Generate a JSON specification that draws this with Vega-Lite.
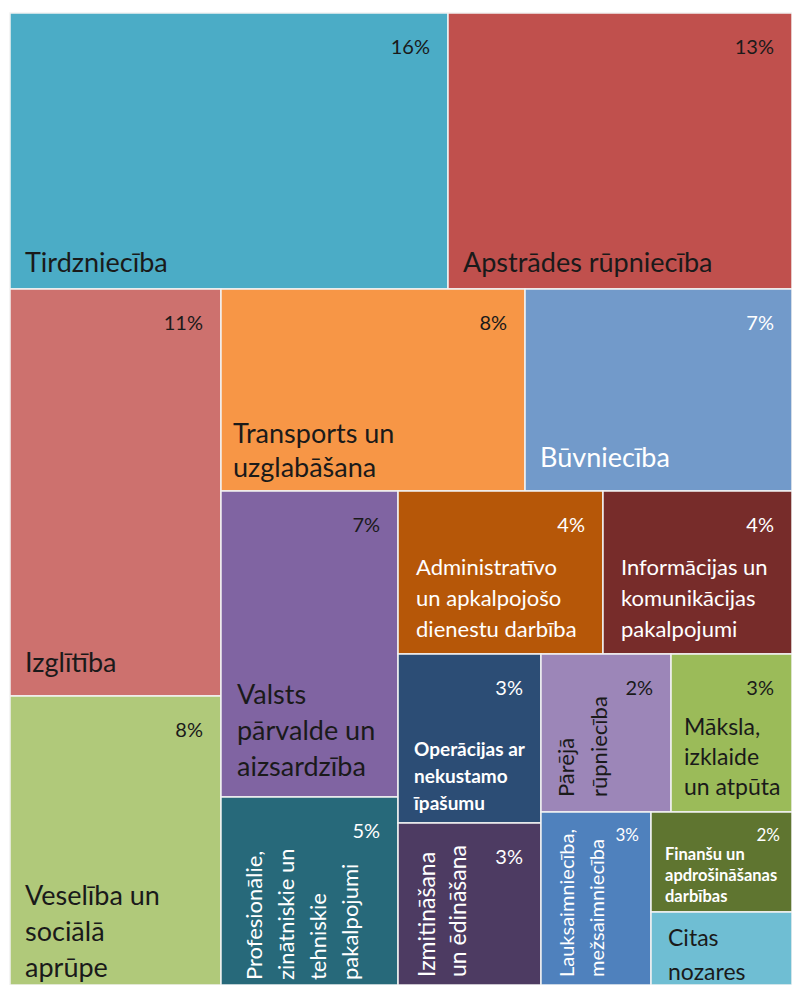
{
  "$schema": "https://vega.github.io/schema/vega-lite/v6.json",
  "width": 782,
  "height": 972,
  "padding": {"left": 10, "top": 13, "right": 0, "bottom": 0},
  "autosize": {"type": "none"},
  "background": "white",
  "config": {"view": {"stroke": null}, "text": {"font": "Lato", "lineBreak": "\n"}},
  "data": {
    "values": [
      {"name": "Tirdzniecība", "label": "Tirdzniecība", "share": 0.16, "x0": 0, "x1": 56.01, "y0": 0, "y1": 28.4},
      {"name": "Apstrādes rūpniecība", "label": "Apstrādes rūpniecība", "share": 0.13, "x0": 56.01, "x1": 100, "y0": 0, "y1": 28.4},
      {"name": "Izglītība", "label": "Izglītība", "share": 0.11, "x0": 0, "x1": 26.98, "y0": 28.4, "y1": 70.27},
      {"name": "Veselība un sociālā aprūpe", "label": "Veselība un\nsociālā\naprūpe", "share": 0.08, "x0": 0, "x1": 26.98, "y0": 70.27, "y1": 100},
      {"name": "Transports un uzglabāšana", "label": "Transports un\nuzglabāšana", "share": 0.08, "x0": 26.98, "x1": 65.86, "y0": 28.4, "y1": 49.18},
      {"name": "Būvniecība", "label": "Būvniecība", "share": 0.07, "x0": 65.86, "x1": 100, "y0": 28.4, "y1": 49.18},
      {"name": "Valsts pārvalde un aizsardzība", "label": "Valsts\npārvalde un\naizsardzība", "share": 0.07, "x0": 26.98, "x1": 49.62, "y0": 49.18, "y1": 80.66},
      {"name": "Profesionālie, zinātniskie un tehniskie pakalpojumi", "label": "Profesionālie,\nzinātniskie un\ntehniskie\npakalpojumi", "share": 0.05, "x0": 26.98, "x1": 49.62, "y0": 80.66, "y1": 100},
      {"name": "Administratīvo un apkalpojošo dienestu darbība", "label": "Administratīvo\nun apkalpojošo\ndienestu darbība", "share": 0.04, "x0": 49.62, "x1": 75.83, "y0": 49.18, "y1": 65.95},
      {"name": "Informācijas un komunikācijas pakalpojumi", "label": "Informācijas un\nkomunikācijas\npakalpojumi", "share": 0.04, "x0": 75.83, "x1": 100, "y0": 49.18, "y1": 65.95},
      {"name": "Operācijas ar nekustamo īpašumu", "label": "Operācijas ar\nnekustamo\nīpašumu", "share": 0.03, "x0": 49.62, "x1": 67.9, "y0": 65.95, "y1": 83.33},
      {"name": "Izmitināšana un ēdināšana", "label": "Izmitināšana\nun ēdināšana", "share": 0.03, "x0": 49.62, "x1": 67.9, "y0": 83.33, "y1": 100},
      {"name": "Pārējā rūpniecība", "label": "Pārējā\nrūpniecība", "share": 0.02, "x0": 67.9, "x1": 84.53, "y0": 65.95, "y1": 82.2},
      {"name": "Māksla, izklaide un atpūta", "label": "Māksla,\nizklaide\nun atpūta", "share": 0.03, "x0": 84.53, "x1": 100, "y0": 65.95, "y1": 82.2},
      {"name": "Lauksaimniecība, mežsaimniecība", "label": "Lauksaimniecība,\nmežsaimniecība", "share": 0.03, "x0": 67.9, "x1": 81.97, "y0": 82.2, "y1": 100},
      {"name": "Finanšu un apdrošināšanas darbības", "label": "Finanšu un\napdrošināšanas\ndarbības", "share": 0.02, "x0": 81.97, "x1": 100, "y0": 82.2, "y1": 92.49},
      {"name": "Citas nozares", "label": "Citas\nnozares", "share": null, "x0": 81.97, "x1": 100, "y0": 92.49, "y1": 100}
    ]
  },
  "encoding": {
    "x": {"field": "x0", "type": "quantitative", "scale": {"domain": [0, 100], "nice": false, "zero": false}, "axis": null},
    "y": {"field": "y0", "type": "quantitative", "scale": {"domain": [0, 100], "nice": false, "zero": false, "reverse": true}, "axis": null}
  },
  "layer": [
    {
      "mark": {"type": "rect", "stroke": "#f2f2f2", "strokeWidth": 1.5},
      "encoding": {
        "x": {"field": "x0", "type": "quantitative"},
        "x2": {"field": "x1"},
        "y": {"field": "y0", "type": "quantitative"},
        "y2": {"field": "y1"},
        "color": {
          "field": "name", "type": "nominal", "legend": null,
          "scale": {
            "domain": ["Tirdzniecība", "Apstrādes rūpniecība", "Izglītība", "Veselība un sociālā aprūpe", "Transports un uzglabāšana", "Būvniecība", "Valsts pārvalde un aizsardzība", "Profesionālie, zinātniskie un tehniskie pakalpojumi", "Administratīvo un apkalpojošo dienestu darbība", "Informācijas un komunikācijas pakalpojumi", "Operācijas ar nekustamo īpašumu", "Izmitināšana un ēdināšana", "Pārējā rūpniecība", "Māksla, izklaide un atpūta", "Lauksaimniecība, mežsaimniecība", "Finanšu un apdrošināšanas darbības", "Citas nozares"],
            "range": ["#4BACC6", "#C0504D", "#CD716E", "#B0C97A", "#F79646", "#729ACA", "#8064A2", "#27697A", "#B65708", "#772C2A", "#2C4D75", "#4D3B62", "#9C86B8", "#9BBB59", "#4F81BD", "#5F7530", "#6FBED3"]
          }
        }
      }
    },
    {
      "transform": [{"filter": "datum.share != null && datum.name != 'Finanšu un apdrošināšanas darbības' && datum.name != 'Lauksaimniecība, mežsaimniecība'"}],
      "mark": {"type": "text", "align": "right", "baseline": "middle", "dx": -18, "dy": 35, "fontSize": 20},
      "encoding": {
        "x": {"field": "x1", "type": "quantitative"},
        "y": {"field": "y0", "type": "quantitative"},
        "text": {"field": "share", "type": "quantitative", "format": ".0%"},
        "color": {"condition": {"test": "indexof(['Būvniecība','Administratīvo un apkalpojošo dienestu darbība','Informācijas un komunikācijas pakalpojumi','Operācijas ar nekustamo īpašumu','Izmitināšana un ēdināšana','Profesionālie, zinātniskie un tehniskie pakalpojumi'], datum.name) >= 0", "value": "white"}, "value": "#1a1a1a"}
      }
    },
    {
      "transform": [{"filter": {"field": "name", "oneOf": ["Finanšu un apdrošināšanas darbības", "Lauksaimniecība, mežsaimniecība"]}}],
      "mark": {"type": "text", "align": "right", "baseline": "middle", "dx": -12, "dy": 24, "fontSize": 17, "color": "white"},
      "encoding": {
        "x": {"field": "x1", "type": "quantitative"},
        "y": {"field": "y0", "type": "quantitative"},
        "text": {"field": "share", "type": "quantitative", "format": ".0%"}
      }
    },
    {
      "transform": [{"filter": {"field": "name", "oneOf": ["Tirdzniecība", "Apstrādes rūpniecība"]}}],
      "mark": {"type": "text", "align": "left", "baseline": "bottom", "dx": 15, "dy": -11, "fontSize": 27, "color": "#1a1a1a"},
      "encoding": {"x": {"field": "x0", "type": "quantitative"}, "y": {"field": "y1", "type": "quantitative"}, "text": {"field": "label"}}
    },
    {
      "transform": [{"filter": {"field": "name", "oneOf": ["Izglītība", "Būvniecība"]}}],
      "mark": {"type": "text", "align": "left", "baseline": "bottom", "dx": 15, "dy": -18, "fontSize": 27},
      "encoding": {
        "x": {"field": "x0", "type": "quantitative"}, "y": {"field": "y1", "type": "quantitative"}, "text": {"field": "label"},
        "color": {"condition": {"test": "datum.name == 'Būvniecība'", "value": "white"}, "value": "#1a1a1a"}
      }
    },
    {
      "transform": [{"filter": {"field": "name", "equal": "Valsts pārvalde un aizsardzība"}}],
      "mark": {"type": "text", "align": "left", "baseline": "bottom", "dx": 16, "dy": -87, "fontSize": 27, "lineHeight": 36, "color": "#1a1a1a"},
      "encoding": {"x": {"field": "x0", "type": "quantitative"}, "y": {"field": "y1", "type": "quantitative"}, "text": {"field": "label"}}
    },
    {
      "transform": [{"filter": {"field": "name", "equal": "Veselība un sociālā aprūpe"}}],
      "mark": {"type": "text", "align": "left", "baseline": "bottom", "dx": 15, "dy": -74, "fontSize": 27, "lineHeight": 36, "color": "#1a1a1a"},
      "encoding": {"x": {"field": "x0", "type": "quantitative"}, "y": {"field": "y1", "type": "quantitative"}, "text": {"field": "label"}}
    },
    {
      "transform": [{"filter": {"field": "name", "equal": "Transports un uzglabāšana"}}],
      "mark": {"type": "text", "align": "left", "baseline": "bottom", "dx": 12, "dy": -42, "fontSize": 27, "lineHeight": 34, "color": "#1a1a1a"},
      "encoding": {"x": {"field": "x0", "type": "quantitative"}, "y": {"field": "y1", "type": "quantitative"}, "text": {"field": "label"}}
    },
    {
      "transform": [{"filter": {"field": "name", "oneOf": ["Administratīvo un apkalpojošo dienestu darbība", "Informācijas un komunikācijas pakalpojumi"]}}],
      "mark": {"type": "text", "align": "left", "baseline": "bottom", "dx": 18, "dy": -74, "fontSize": 22, "lineHeight": 31, "color": "white"},
      "encoding": {"x": {"field": "x0", "type": "quantitative"}, "y": {"field": "y1", "type": "quantitative"}, "text": {"field": "label"}}
    },
    {
      "transform": [{"filter": {"field": "name", "equal": "Māksla, izklaide un atpūta"}}],
      "mark": {"type": "text", "align": "left", "baseline": "bottom", "dx": 13, "dy": -72, "fontSize": 23, "lineHeight": 30, "color": "#1a1a1a"},
      "encoding": {"x": {"field": "x0", "type": "quantitative"}, "y": {"field": "y1", "type": "quantitative"}, "text": {"field": "label"}}
    },
    {
      "transform": [{"filter": {"field": "name", "equal": "Citas nozares"}}],
      "mark": {"type": "text", "align": "left", "baseline": "bottom", "dx": 17, "dy": -34, "fontSize": 23, "lineHeight": 34, "color": "#1a1a1a"},
      "encoding": {"x": {"field": "x0", "type": "quantitative"}, "y": {"field": "y1", "type": "quantitative"}, "text": {"field": "label"}}
    },
    {
      "transform": [{"filter": {"field": "name", "equal": "Operācijas ar nekustamo īpašumu"}}],
      "mark": {"type": "text", "align": "left", "baseline": "bottom", "dx": 16, "dy": -63, "fontSize": 19, "fontWeight": "bold", "lineHeight": 27, "color": "white"},
      "encoding": {"x": {"field": "x0", "type": "quantitative"}, "y": {"field": "y1", "type": "quantitative"}, "text": {"field": "label"}}
    },
    {
      "transform": [{"filter": {"field": "name", "equal": "Finanšu un apdrošināšanas darbības"}}],
      "mark": {"type": "text", "align": "left", "baseline": "bottom", "dx": 14, "dy": -49, "fontSize": 16.5, "fontWeight": "bold", "lineHeight": 21, "color": "white"},
      "encoding": {"x": {"field": "x0", "type": "quantitative"}, "y": {"field": "y1", "type": "quantitative"}, "text": {"field": "label"}}
    },
    {
      "transform": [{"filter": {"field": "name", "equal": "Pārējā rūpniecība"}}],
      "mark": {"type": "text", "angle": 270, "align": "left", "baseline": "top", "dx": 15, "dy": 16, "fontSize": 22, "lineHeight": 33, "color": "#1a1a1a"},
      "encoding": {"x": {"field": "x0", "type": "quantitative"}, "y": {"field": "y1", "type": "quantitative"}, "text": {"field": "label"}}
    },
    {
      "transform": [{"filter": {"field": "name", "equal": "Izmitināšana un ēdināšana"}}],
      "mark": {"type": "text", "angle": 270, "align": "left", "baseline": "top", "dx": 8, "dy": 19, "fontSize": 23, "lineHeight": 31, "color": "white"},
      "encoding": {"x": {"field": "x0", "type": "quantitative"}, "y": {"field": "y1", "type": "quantitative"}, "text": {"field": "label"}}
    },
    {
      "transform": [{"filter": {"field": "name", "equal": "Lauksaimniecība, mežsaimniecība"}}],
      "mark": {"type": "text", "angle": 270, "align": "left", "baseline": "top", "dx": 8, "dy": 17, "fontSize": 20, "lineHeight": 30, "color": "white"},
      "encoding": {"x": {"field": "x0", "type": "quantitative"}, "y": {"field": "y1", "type": "quantitative"}, "text": {"field": "label"}}
    },
    {
      "transform": [{"filter": {"field": "name", "equal": "Profesionālie, zinātniskie un tehniskie pakalpojumi"}}],
      "mark": {"type": "text", "angle": 270, "align": "left", "baseline": "top", "dx": 5, "dy": 24, "fontSize": 22, "lineHeight": 32, "color": "white"},
      "encoding": {"x": {"field": "x0", "type": "quantitative"}, "y": {"field": "y1", "type": "quantitative"}, "text": {"field": "label"}}
    }
  ]
}
